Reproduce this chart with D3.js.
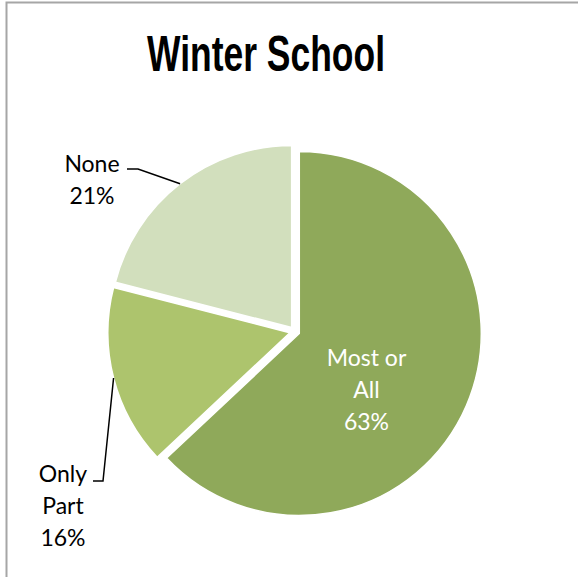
<!DOCTYPE html>
<html>
<head>
<meta charset="utf-8">
<script src="https://cdn.jsdelivr.net/npm/d3@7"></script>
<style>
  html, body { margin: 0; padding: 0; background: #fff; }
  svg { display: block; }
</style>
</head>
<body>
<svg id="chart" width="578" height="577"></svg>
<script>
// Survey answers for winter school attendance
const categories = ["Most or All", "Only Part", "None"];
const shares = [63, 16, 21];
const labelLines = [["Most or", "All", "63%"], ["Only", "Part", "16%"], ["None", "21%"]];
const colors = ["#8fa95a", "#adc46d", "#d2dfbd"];

const width = 578, height = 577;
const cx = 294.7, cy = 331.5, radius = 182, explode = 5;

const svg = d3.select("#chart");

// chart frame
svg.append("rect")
  .attr("x", 6.5).attr("y", 2.5)
  .attr("width", 575).attr("height", 590)
  .attr("fill", "#fff")
  .attr("stroke", "#a6a6a6")
  .attr("stroke-width", 2);

// title
svg.append("text")
  .attr("x", 266).attr("y", 71)
  .attr("text-anchor", "middle")
  .attr("font-family", "'Liberation Sans Narrow', 'Arial Narrow', 'Liberation Sans', sans-serif")
  .attr("font-weight", "bold")
  .attr("font-size", 50)
  .attr("textLength", 238)
  .attr("lengthAdjust", "spacingAndGlyphs")
  .attr("fill", "#000")
  .text("Winter School");

const pie = d3.pie().sort(null).value(d => d)(shares);
const arc = d3.arc().innerRadius(0).outerRadius(radius);

// offset of each exploded slice along its bisector
function shift(d) {
  const a = (d.startAngle + d.endAngle) / 2;
  return [Math.sin(a) * explode, -Math.cos(a) * explode];
}
function onRim(d) {
  const a = (d.startAngle + d.endAngle) / 2;
  const [sx, sy] = shift(d);
  return [cx + sx + Math.sin(a) * radius, cy + sy - Math.cos(a) * radius];
}

const g = svg.append("g").attr("transform", `translate(${cx},${cy})`);
g.selectAll("path.slice")
  .data(pie)
  .join("path")
  .attr("class", "slice")
  .attr("transform", d => `translate(${shift(d)})`)
  .attr("d", arc)
  .attr("fill", (d, i) => colors[i])
  .attr("stroke", "#fff")
  .attr("stroke-width", 1.5)
  .attr("stroke-linejoin", "miter");

// label placement: anchor centre of the text block, and elbow of the leader line
const labelLayout = [
  { x: 366.5, y: 366, color: "#fff", leader: null },
  { x: 63, y: 482, color: "#000", leader: { elbow: [103, 481], end: [93, 481] } },
  { x: 92, y: 172, color: "#000", leader: { elbow: [138, 169], end: [127, 169] } }
];
const lineGap = 32;

pie.forEach((d, i) => {
  const L = labelLayout[i];
  if (L.leader) {
    const p = onRim(d);
    svg.append("polyline")
      .attr("points", [p, L.leader.elbow, L.leader.end].map(q => q.join(",")).join(" "))
      .attr("fill", "none")
      .attr("stroke", "#000")
      .attr("stroke-width", 1.5);
  }
  const t = svg.append("text")
    .attr("text-anchor", "middle")
    .attr("font-family", "Lato, 'Open Sans', sans-serif")
    .attr("font-size", 23)
    .attr("fill", L.color);
  labelLines[i].forEach((line, k) => {
    t.append("tspan").attr("x", L.x).attr("y", L.y + k * lineGap).text(line);
  });
});
</script>
</body>
</html>
